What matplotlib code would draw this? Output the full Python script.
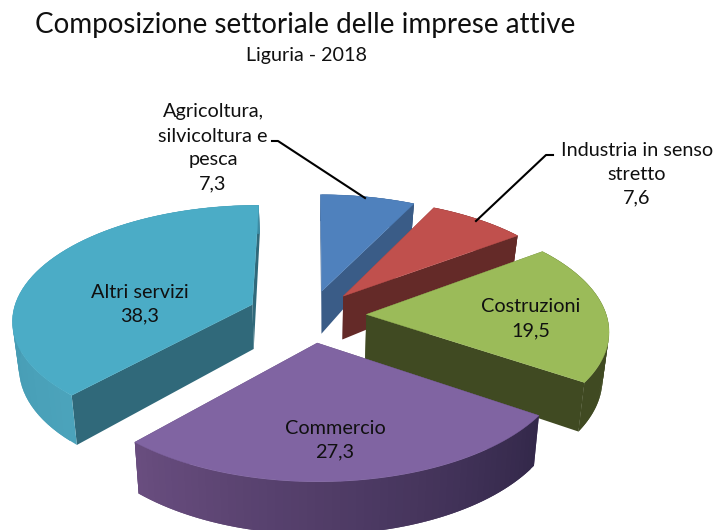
import numpy as np
import matplotlib
matplotlib.use('Agg')
import matplotlib.pyplot as plt
from matplotlib.patches import Polygon

plt.rcParams['font.family'] = ['Lato', 'DejaVu Sans']

# Data
labels = ['Agricoltura,\nsilvicoltura e\npesca\n7,3', 'Industria in senso\nstretto\n7,6',
          'Costruzioni\n19,5', 'Commercio\n27,3', 'Altri servizi\n38,3']
values = [7.3, 7.6, 19.5, 27.3, 38.3]

top_colors = ['#4f81bd', '#c0504d', '#9bbb59', '#8064a2', '#4bacc6']
face_colors = ['#3a5c87', '#642a28', '#404a22', '#4a3560', '#30697a']
wall_start = ['#3a5c87', '#642a28', '#404a22', '#33284a', '#4ba3bb']
wall_end = ['#3a5c87', '#642a28', '#404a22', '#6a4e80', '#3d8ba3']
label_pos = [(213, 148), (637, 174), (531, 319), (335, 440), (140, 304)]
explode = [0.22, 0.22, 0.235, 0.24, 0.26]

# geometry of the fake 3d pie, in pixels
cx, cy = 310, 315
rx, ry = 240, 114
k = 0.124


def project(u, v):
    d = 1 / (1 + k * v)
    return cx + rx * u * d, cy - ry * v * d


def project_low(u, v):
    # same point on the lower rim of the slice
    x, y = project(u, v)
    h = 46 * (1 - 0.35 * v) if v > 0 else 46 * (1 - 0.12 * v)
    return cx + (x - cx) * 0.978, y + h


fig = plt.figure(figsize=(7.16, 5.30), dpi=100)
ax = fig.add_axes([0, 0, 1, 1])
ax.set_xlim(0, 716)
ax.set_ylim(530, 0)
ax.axis('off')

total = sum(values)
edges = np.cumsum([0] + values) / total * 2 * np.pi

# back slices first, the purple one has to sit on top of the others
for n, i in enumerate([0, 1, 2, 4, 3]):
    a0, a1 = edges[i], edges[i + 1]
    mid = (a0 + a1) / 2
    ou, ov = explode[i] * np.sin(mid), explode[i] * np.cos(mid)
    ang = np.linspace(a0, a1, 60)
    us = ou + np.sin(ang)
    vs = ov + np.cos(ang)

    top = [project(ou, ov)] + [project(u, v) for u, v in zip(us, vs)]
    low = [project_low(ou, ov)] + [project_low(u, v) for u, v in zip(us, vs)]

    # the two flat faces from the tip to the rim
    for j in [1, len(top) - 1]:
        quad = [top[0], top[j], low[j], low[0]]
        ax.add_patch(Polygon(quad, fc=face_colors[i], ec='none', zorder=n))

    # outer wall, small overlapping pieces so the colour can change along it
    c0 = np.array(matplotlib.colors.to_rgb(wall_start[i]))
    c1 = np.array(matplotlib.colors.to_rgb(wall_end[i]))
    for j in range(1, len(top) - 1):
        t = (j - 1) / (len(top) - 2)
        col = c0 + (c1 - c0) * t
        j2 = min(j + 2, len(top) - 1)
        quad = [top[j], top[j2], low[j2], low[j]]
        ax.add_patch(Polygon(quad, fc=col, ec='none', zorder=n))

    ax.add_patch(Polygon(top, fc=top_colors[i], ec=top_colors[i], lw=0.3, zorder=n))

for i in range(len(labels)):
    ax.text(label_pos[i][0], label_pos[i][1], labels[i], ha='center', va='center',
            fontsize=14.3, color='#101010', linespacing=1.5, zorder=10)

# leader lines
ax.plot([272, 278, 365], [141, 141, 198], color='black', lw=1.5, zorder=9)
ax.plot([553, 546, 476], [155, 155, 221], color='black', lw=1.5, zorder=9)

ax.text(305, 25, 'Composizione settoriale delle imprese attive', ha='center', va='center',
        fontsize=20, color='#101010')
ax.text(306, 55, 'Liguria - 2018', ha='center', va='center', fontsize=14.2, color='#101010')

plt.savefig('out.png', dpi=100)
